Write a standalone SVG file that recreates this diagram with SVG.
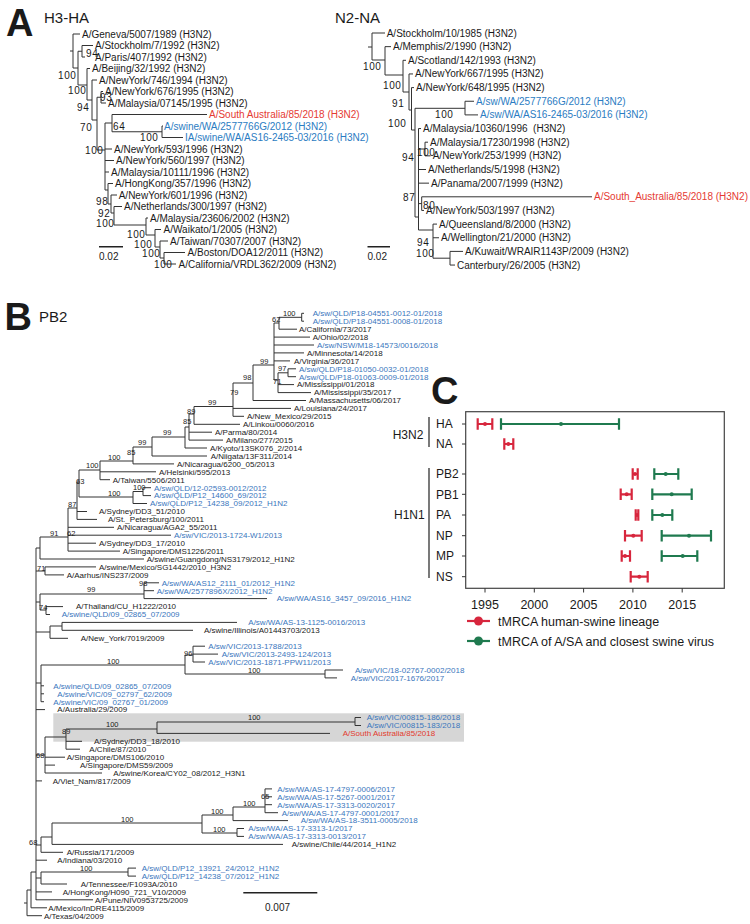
<svg xmlns="http://www.w3.org/2000/svg" width="750" height="924" viewBox="0 0 750 924">
<style>
text{font-family:"Liberation Sans",Arial,sans-serif;fill:#1a1a1a}
.pl{font-size:38px;font-weight:bold}
.ti{font-size:15px}
.a{font-size:10px}
.as{font-size:10px;letter-spacing:0.6px}
.b{font-size:8px}
.bs{font-size:7.5px}
.ab{fill:#2b7cc2}
.ar{fill:#e53a33}
.bb{fill:#3a76bd}
.br{fill:#e33b2e}
.ln{fill:none;stroke:#333;stroke-width:1}
.sb{fill:none;stroke:#222;stroke-width:1.6}
.c{font-size:12px}
.ax{font-size:12.5px}
.lg{font-size:12.5px}
.red{stroke:#d7263d;stroke-width:2.2;fill:none}
.grn{stroke:#1f7a4f;stroke-width:2.2;fill:none}
</style>
<rect width="750" height="924" fill="#fff"/>

<!-- Panel titles -->
<g id="titles">
<text class="pl" x="6" y="36">A</text>
<text class="ti" x="44" y="22.5">H3-HA</text>
<text class="ti" x="335" y="22.5">N2-NA</text>
<text class="pl" x="4.5" y="330">B</text>
<text class="ti" x="39" y="322.3">PB2</text>
<text class="pl" x="431" y="404">C</text>
</g>

<g id="connectors">
<!-- H3-HA tree -->
<path class="ln" d="M73 34V68M70 51H73M73 34H80
M73 68H78M78 51.25V85
M78 51.25H82M82 45.5V57M82 45.5H93M82 57H85
M78 85H87M87 68.5V100M87 68.5H90
M87 100H92M92 80V120M92 80H97
M92 120H97M97 97.25V150
M97 97.25H101M101 91.5V103M101 91.5H103M101 103H106
M97 150H105M105 123V190
M105 123H112M112 114.5V131.75M112 114.5H207M112 131.75H162M162 126V137.5M162 126H163M162 137.5H183
M105 149H112M105 160.5H114M105 172H109
M105 190H108M108 183.5V204M108 183.5H113
M108 204H111M111 195V213M111 195H117
M111 213H114M114 206.5V225M114 206.5H122
M114 225H146M146 218V235M146 218H148
M146 235H155M155 229.5V247M155 229.5H161
M155 247H160M160 241V258M160 241H168
M160 258H164M164 252.5V264M164 252.5H185M164 264H176"/>
<!-- N2-NA tree -->
<path class="ln" d="M372 33V60M368 47H372M372 33H385
M372 60H385M385 46.65V75M385 46.65H391
M385 75H403M403 60.3V92M403 60.3H406
M403 92H409M409 73.95V110M409 73.95H413
M409 110H411.5M411.5 87.6V130M411.5 87.6H414
M411.5 130H415M415 108.3V217M415 108.3H465M465 101.25V114.9M465 101.25H474M465 114.9H478
M415 217H418.5M418.5 128.55V230M418.5 128.55H421
M418.5 149H425M425 142.2V155.85M425 142.2H428M425 155.85H430.5
M418.5 169.5H426M418.5 183.15H429
M418.5 203.6H421.7M421.7 196.8V210.45M421.7 196.8H592M421.7 210.45H424
M418.5 230H433M433 224.1V258.2M433 224.1H437M433 237.75H439
M433 258.2H450M450 251.4V265.05M450 251.4H463M450 265.05H455"/>
<!-- scale bars A -->
<path class="sb" d="M99 246.7H123M367.5 246.7H390"/>

<!-- PB2 tree -->
<rect x="53.3" y="713.3" width="410.7" height="28.4" fill="#d6d6d6"/>
<path class="ln" d="M301.7 313.3V321.2M301.7 313.3H304M301.7 321.2H304
M279 317.3H301.7M279 317.3V329.2M279 329.2H297M274 323H279
M274 323V380M274 337.1H310M274 345H314M274 352.9H304M274 360.9H290M274 380H278
M278 372.8V392.6M278 372.8H288M278 384.6H294M278 392.6H311
M288 368.8V376.7M288 368.8H296M288 376.7H296
M253 365V400.5M253 365H274M253 400.5H306
M233 383V416.3M233 383H253M233 408.4H291M233 416.3H244
M194 406.5V424.3M194 406.5H233M194 424.3H240
M189 414V440.1M189 414H194M189 432.2H212M189 440.1H223
M185 427V448M185 427H189M185 448H207
M152 437V456M152 437H185M152 456H207
M133 447V463.9M133 447H152M133 463.9H174
M100 461V479.7M100 461H133M100 471.8H156M100 479.7H110
M79 470V497M79 470H100M79 497H133
M133 491.5V503.5M133 491.5H143M133 503.5H147
M143 487.7V495.6M143 487.7H151M143 495.6H151
M77 482V519.4M77 482H79M77 511.5H87M77 519.4H97
M68 508V551.1M68 508H77M68 527.3H114M68 535.2H171M68 543.2H96M68 551.1H120
M40 537V559M40 537H68M40 559H144
M36 548V900M36 548H40
M36 571H45M45 566.9V574.9M45 566.9H96M45 574.9H64
M36 602H40M40 594V610M40 594H144M40 610H46
M144 582.8V598.6M144 582.8H159M144 590.7H154M144 598.6H267
M46 606.6V614.5M46 606.6H63M46 614.5H50
M36 632H50M50 626V638.3M50 626H62M50 638.3H68
M62 622.4V630.3M62 622.4H237M62 630.3H193
M36 683H41M41 665V701.7M41 665H185M41 685.8H44M41 693.8H44M41 701.7H44
M185 655V674M185 655H193M185 674H325
M193 646.2V662M193 646.2H205M193 654.1H218M193 662H205
M325 670V677.9M325 670H343M325 677.9H337
M36 709.6H45
M36 755H45M45 737V773M45 757.2H65M45 765.1H55M45 773H102
M45 737H66M66 729V749.2M66 741.3H82M66 749.2H80
M66 729H157M157 722V733.4M157 722H355M157 733.4H330
M355 717.5V725.5M355 717.5H361M355 725.5H361
M36 780.9H42
M36 845H41M41 837V852.3M41 837H52M41 852.3H63
M52 823V844.4M52 823H202M52 844.4H283
M202 815V833M202 815H233M202 833H237
M233 807V820.6M233 807H265M233 820.6H288
M265 788.9V812.7M265 788.9H272M265 796.8H272M265 804.7H272M265 812.7H278
M237 828.5V836.4M237 828.5H244M237 836.4H244
M36 860.2H47
M36 878H41M41 872V884M41 872H128M41 884H67
M128 868.1V876.1M128 868.1H136M128 876.1H136
M36 891.9H52M36 899.8H93
M31 872H36M31 872V907.8M31 907.8H47
M27 890H31M27 890V915.7M24 903H27M27 915.7H42"/>
<path class="sb" d="M243.3 892.7H317.3"/>
</g>

<!-- H3-HA tips -->
<g id="hA-tips" class="a">
<g id="ha1"><text class="a" x="82" y="37.5">A/Geneva/5007/1989 (H3N2)</text></g>
<g id="ha2"><text class="a" x="95" y="49">A/Stockholm/7/1992 (H3N2)</text></g>
<g id="ha3"><text class="a" x="95" y="60.5">A/Paris/407/1992 (H3N2)</text></g>
<g id="ha4"><text class="a" x="92" y="72">A/Beijing/32/1992 (H3N2)</text></g>
<g id="ha5"><text class="a" x="99" y="83.5">A/NewYork/746/1994 (H3N2)</text></g>
<g id="ha6"><text class="a" x="105" y="95">A/NewYork/676/1995 (H3N2)</text></g>
<g id="ha7"><text class="a" x="108" y="106.5">A/Malaysia/07145/1995 (H3N2)</text></g>
<g id="ha8"><text class="a ar" x="209" y="118">A/South Australia/85/2018 (H3N2)</text></g>
<g id="ha9"><text class="a ab" x="164" y="129.5">A/swine/WA/2577766G/2012 (H3N2)</text></g>
<g id="ha10"><text class="a ab" x="185" y="141">IA/swine/WA/AS16-2465-03/2016 (H3N2)</text></g>
<g id="ha11"><text class="a" x="114" y="152.5">A/NewYork/593/1996 (H3N2)</text></g>
<g id="ha12"><text class="a" x="116" y="164">A/NewYork/560/1997 (H3N2)</text></g>
<g id="ha13"><text class="a" x="111" y="175.5">A/Malaysia/10111/1996 (H3N2)</text></g>
<g id="ha14"><text class="a" x="115" y="187">A/HongKong/357/1996 (H3N2)</text></g>
<g id="ha15"><text class="a" x="118.7" y="198.5">A/NewYork/601/1996 (H3N2)</text></g>
<g id="ha16"><text class="a" x="124" y="210">A/Netherlands/300/1997 (H3N2)</text></g>
<g id="ha17"><text class="a" x="150" y="221.5">A/Malaysia/23606/2002 (H3N2)</text></g>
<g id="ha18"><text class="a" x="163.6" y="233">A/Waikato/1/2005 (H3N2)</text></g>
<g id="ha19"><text class="a" x="170" y="244.5">A/Taiwan/70307/2007 (H3N2)</text></g>
<g id="ha20"><text class="a" x="187.6" y="256">A/Boston/DOA12/2011 (H3N2)</text></g>
<g id="ha21"><text class="a" x="178.5" y="267.5">A/California/VRDL362/2009 (H3N2)</text></g>
</g>
<g id="hA-support">
<text class="as" x="86" y="56.5">94</text>
<text class="as" x="58" y="78.5">100</text>
<text class="as" x="68" y="93.5">100</text>
<text class="as" x="77" y="110.5">94</text>
<text class="as" x="100" y="100.5">93</text>
<text class="as" x="80" y="130.5">70</text>
<text class="as" x="113" y="129.5">64</text>
<text class="as" x="140" y="140.5">100</text>
<text class="as" x="85" y="153.5">100</text>
<text class="as" x="96" y="204.5">98</text>
<text class="as" x="98" y="216.5">92</text>
<text class="as" x="96" y="226.5">100</text>
<text class="as" x="127" y="237.5">100</text>
<text class="as" x="134" y="247.5">100</text>
<text class="as" x="142" y="256.5">100</text>
<text class="as" x="154" y="267.5">100</text>
<text class="a" x="99" y="260">0.02</text>
</g>

<!-- N2-NA tips -->
<g id="nA-tips">
<g id="na1"><text class="a" x="386.7" y="36.5">A/Stockholm/10/1985 (H3N2)</text></g>
<g id="na2"><text class="a" x="393" y="50.15">A/Memphis/2/1990 (H3N2)</text></g>
<g id="na3"><text class="a" x="408" y="63.8">A/Scotland/142/1993 (H3N2)</text></g>
<g id="na4"><text class="a" x="415" y="77.45">A/NewYork/667/1995 (H3N2)</text></g>
<g id="na5"><text class="a" x="416" y="91.1">A/NewYork/648/1995 (H3N2)</text></g>
<g id="na6"><text class="a ab" x="476" y="104.75">A/sw/WA/2577766G/2012 (H3N2)</text></g>
<g id="na7"><text class="a ab" x="480" y="118.4">A/sw/WA/AS16-2465-03/2016 (H3N2)</text></g>
<g id="na8"><text class="a" x="423" y="132">A/Malaysia/10360/1996&#160; (H3N2)</text></g>
<g id="na9"><text class="a" x="430" y="145.7">A/Malaysia/17230/1998 (H3N2)</text></g>
<g id="na10"><text class="a" x="432.7" y="159.35">A/NewYork/253/1999 (H3N2)</text></g>
<g id="na11"><text class="a" x="428" y="173">A/Netherlands/5/1998 (H3N2)</text></g>
<g id="na12"><text class="a" x="431" y="186.65">A/Panama/2007/1999 (H3N2)</text></g>
<g id="na13"><text class="a ar" x="594" y="200.3">A/South_Australia/85/2018 (H3N2)</text></g>
<g id="na14"><text class="a" x="426" y="213.95">A/NewYork/503/1997 (H3N2)</text></g>
<g id="na15"><text class="a" x="439" y="227.6">A/Queensland/8/2000 (H3N2)</text></g>
<g id="na16"><text class="a" x="441" y="241.25">A/Wellington/21/2000 (H3N2)</text></g>
<g id="na17"><text class="a" x="465" y="254.9">A/Kuwait/WRAIR1143P/2009 (H3N2)</text></g>
<g id="na18"><text class="a" x="457" y="268.55">Canterbury/26/2005 (H3N2)</text></g>
</g>
<g id="nA-support">
<text class="as" x="363" y="70.2">100</text>
<text class="as" x="383" y="88.5">100</text>
<text class="as" x="392" y="106.5">91</text>
<text class="as" x="388" y="126.5">100</text>
<text class="as" x="435" y="117.5">100</text>
<text class="as" x="417" y="155.5">100</text>
<text class="as" x="402" y="160.5">94</text>
<text class="as" x="403" y="200.5">87</text>
<text class="as" x="423" y="208.5">80</text>
<text class="as" x="417" y="245.5">94</text>
<text class="as" x="416" y="256.8">100</text>
<text class="a" x="367.5" y="260">0.02</text>
</g>

<!-- PB2 tips -->
<g id="pb2-tips">
<g id="p0"><text class="b bb" x="312.7" y="316.1">A/sw/QLD/P18-04551-0012-01/2018</text></g>
<g id="p1"><text class="b bb" x="312.7" y="324">A/sw/QLD/P18-04551-0008-01/2018</text></g>
<g id="p2"><text class="b" x="299" y="332">A/California/73/2017</text></g>
<g id="p3"><text class="b" x="312.7" y="339.9">A/Ohio/02/2018</text></g>
<g id="p4"><text class="b bb" x="317" y="347.8">A/sw/NSW/M18-14573/0016/2018</text></g>
<g id="p5"><text class="b" x="307" y="355.7">A/Minnesota/14/2018</text></g>
<g id="p6"><text class="b" x="294" y="363.7">A/Virginia/36/2017</text></g>
<g id="p7"><text class="b bb" x="299" y="371.6">A/sw/QLD/P18-01050-0032-01/2018</text></g>
<g id="p8"><text class="b bb" x="299" y="379.5">A/sw/QLD/P18-01063-0009-01/2018</text></g>
<g id="p9"><text class="b" x="297" y="387.4">A/Mississippi/01/2018</text></g>
<g id="p10"><text class="b" x="314" y="395.4">A/Mississippi/35/2017</text></g>
<g id="p11"><text class="b" x="309" y="403.3">A/Massachusetts/06/2017</text></g>
<g id="p12"><text class="b" x="294" y="411.2">A/Louisiana/24/2017</text></g>
<g id="p13"><text class="b" x="247" y="419.1">A/New_Mexico/29/2015</text></g>
<g id="p14"><text class="b" x="243" y="427.1">A/Linkou/0060/2016</text></g>
<g id="p15"><text class="b" x="215" y="435">A/Parma/80/2014</text></g>
<g id="p16"><text class="b" x="226" y="442.9">A/Milano/277/2015</text></g>
<g id="p17"><text class="b" x="210" y="450.8">A/Kyoto/13SK076_2/2014</text></g>
<g id="p18"><text class="b" x="210.7" y="458.8">A/Niigata/13F311/2014</text></g>
<g id="p19"><text class="b" x="177" y="466.7">A/Nicaragua/6200_05/2013</text></g>
<g id="p20"><text class="b" x="159" y="474.6">A/Helsinki/595/2013</text></g>
<g id="p21"><text class="b" x="112.7" y="482.5">A/Taiwan/5506/2011</text></g>
<g id="p22"><text class="b bb" x="154" y="490.5">A/sw/QLD/12-02593-0012/2012</text></g>
<g id="p23"><text class="b bb" x="154" y="498.4">A/sw/QLD/P12_14600_69/2012</text></g>
<g id="p24"><text class="b bb" x="150" y="506.3">A/sw/QLD/P12_14238_09/2012_H1N2</text></g>
<g id="p25"><text class="b" x="99" y="514.3">A/Sydney/DD3_51/2010</text></g>
<g id="p26"><text class="b" x="108" y="522.2">A/St._Petersburg/100/2011</text></g>
<g id="p27"><text class="b" x="117" y="530.1">A/Nicaragua/AGA2_55/2011</text></g>
<g id="p28"><text class="b bb" x="174" y="538">A/sw/VIC/2013-1724-W1/2013</text></g>
<g id="p29"><text class="b" x="99" y="546">A/Sydney/DD3_17/2010</text></g>
<g id="p30"><text class="b" x="122.7" y="553.9">A/Singapore/DMS1226/2011</text></g>
<g id="p31"><text class="b" x="146.7" y="561.8">A/swine/Guangdong/NS3179/2012_H1N2</text></g>
<g id="p32"><text class="b" x="99" y="569.7">A/swine/Mexico/SG1442/2010_H3N2</text></g>
<g id="p33"><text class="b" x="66.7" y="577.7">A/Aarhus/INS237/2009</text></g>
<g id="p34"><text class="b bb" x="161.7" y="585.6">A/sw/WA/AS12_2111_01/2012_H1N2</text></g>
<g id="p35"><text class="b bb" x="156.7" y="593.5">A/sw/WA/2577896X/2012_H1N2</text></g>
<g id="p36"><text class="b bb" x="276.7" y="601.4">A/sw/WA/AS16_3457_09/2016_H1N2</text></g>
<g id="p37"><text class="b" x="76" y="609.4">A/Thailand/CU_H1222/2010</text></g>
<g id="p38"><text class="b bb" x="61.7" y="617.3">A/swine/QLD/09_02865_07/2009</text></g>
<g id="p39"><text class="b bb" x="248.3" y="625.2">A/sw/WA/AS-13-1125-0016/2013</text></g>
<g id="p40"><text class="b" x="204" y="633.1">A/swine/Illinois/A01443703/2013</text></g>
<g id="p41"><text class="b" x="80.7" y="641.1">A/New_York/7019/2009</text></g>
<g id="p42"><text class="b bb" x="208.3" y="649">A/sw/VIC/2013-1788/2013</text></g>
<g id="p43"><text class="b bb" x="221.7" y="656.9">A/sw/VIC/2013-2493-124/2013</text></g>
<g id="p44"><text class="b bb" x="208.3" y="664.8">A/sw/VIC/2013-1871-PPW11/2013</text></g>
<g id="p45"><text class="b bb" x="355" y="672.8">A/sw/VIC/18-02767-0002/2018</text></g>
<g id="p46"><text class="b bb" x="350.7" y="680.7">A/sw/VIC/2017-1676/2017</text></g>
<g id="p47"><text class="b bb" x="53.3" y="688.6">A/swine/QLD/09_02865_07/2009</text></g>
<g id="p48"><text class="b bb" x="57.3" y="696.6">A/swine/VIC/09_02797_62/2009</text></g>
<g id="p49"><text class="b bb" x="53.3" y="704.5">A/swine/VIC/09_02767_01/2009</text></g>
<g id="p50"><text class="b" x="57.3" y="712.4">A/Australia/29/2009</text></g>
<g id="p51"><text class="b bb" x="366.7" y="720.3">A/sw/VIC/00815-186/2018</text></g>
<g id="p52"><text class="b bb" x="366.7" y="728.3">A/sw/VIC/00815-183/2018</text></g>
<g id="p53"><text class="b br" x="342.7" y="736.2">A/South Australia/85/2018</text></g>
<g id="p54"><text class="b" x="94" y="744.1">A/Sydney/DD3_18/2010</text></g>
<g id="p55"><text class="b" x="89.3" y="752">A/Chile/87/2010</text></g>
<g id="p56"><text class="b" x="66.7" y="760">A/Singapore/DMS106/2010</text></g>
<g id="p57"><text class="b" x="80" y="767.9">A/Singapore/DMS59/2009</text></g>
<g id="p58"><text class="b" x="113.3" y="775.8">A/swine/Korea/CY02_08/2012_H3N1</text></g>
<g id="p59"><text class="b" x="52.7" y="783.7">A/Viet_Nam/817/2009</text></g>
<g id="p60"><text class="b bb" x="277.3" y="791.7">A/sw/WA/AS-17-4797-0006/2017</text></g>
<g id="p61"><text class="b bb" x="277.3" y="799.6">A/sw/WA/AS-17-5267-0001/2017</text></g>
<g id="p62"><text class="b bb" x="277.3" y="807.5">A/sw/WA/AS-17-3313-0020/2017</text></g>
<g id="p63"><text class="b bb" x="281.7" y="815.5">A/sw/WA/AS-17-4797-0001/2017</text></g>
<g id="p64"><text class="b bb" x="300.7" y="823.4">A/sw/WA/AS-18-3511-0005/2018</text></g>
<g id="p65"><text class="b bb" x="248.3" y="831.3">A/sw/WA/AS-17-3313-1/2017</text></g>
<g id="p66"><text class="b bb" x="248.3" y="839.2">A/sw/WA/AS-17-3313-0013/2017</text></g>
<g id="p67"><text class="b" x="291.7" y="847.2">A/swine/Chile/44/2014_H1N2</text></g>
<g id="p68"><text class="b" x="66.7" y="855.1">A/Russia/171/2009</text></g>
<g id="p69"><text class="b" x="57.3" y="863">A/Indiana/03/2010</text></g>
<g id="p70"><text class="b bb" x="141.7" y="870.9">A/sw/QLD/P12_13921_24/2012_H1N2</text></g>
<g id="p71"><text class="b bb" x="141.7" y="878.9">A/sw/QLD/P12_14238_07/2012_H1N2</text></g>
<g id="p72"><text class="b" x="80.7" y="886.8">A/Tennessee/F1093A/2010</text></g>
<g id="p73"><text class="b" x="62.7" y="894.7">A/HongKong/H090_721_V10/2009</text></g>
<g id="p74"><text class="b" x="95" y="902.6">A/Pune/NIV0953725/2009</text></g>
<g id="p75"><text class="b" x="48.3" y="910.6">A/Mexico/InDRE4115/2009</text></g>
<g id="p76"><text class="b" x="44" y="918.5">A/Texas/04/2009</text></g>
</g>
<g id="pb2-support" class="bs">
<text class="bs" x="283" y="315.7">100</text>
<text class="bs" x="272" y="321.7">62</text>
<text class="bs" x="260" y="363.5">99</text>
<text class="bs" x="278" y="370.5">97</text>
<text class="bs" x="243" y="379.5">98</text>
<text class="bs" x="273" y="383.5">71</text>
<text class="bs" x="230" y="394.5">79</text>
<text class="bs" x="208" y="404.5">99</text>
<text class="bs" x="187" y="413.5">89</text>
<text class="bs" x="183" y="423.5">85</text>
<text class="bs" x="163" y="435">99</text>
<text class="bs" x="138" y="445">99</text>
<text class="bs" x="127" y="454.5">85</text>
<text class="bs" x="108" y="459.5">100</text>
<text class="bs" x="86" y="468">100</text>
<text class="bs" x="76" y="483.5">63</text>
<text class="bs" x="133" y="490">100</text>
<text class="bs" x="108" y="495.5">100</text>
<text class="bs" x="68" y="507">87</text>
<text class="bs" x="50" y="535.5">91</text>
<text class="bs" x="67" y="535.5">62</text>
<text class="bs" x="37" y="570.5">71</text>
<text class="bs" x="139" y="585.5">98</text>
<text class="bs" x="87" y="591.5">99</text>
<text class="bs" x="39" y="609.5">74</text>
<text class="bs" x="184" y="655.5">96</text>
<text class="bs" x="107" y="663.5">100</text>
<text class="bs" x="248" y="672.5">100</text>
<text class="bs" x="248" y="720">100</text>
<text class="bs" x="106" y="727">100</text>
<text class="bs" x="62" y="733.5">89</text>
<text class="bs" x="36" y="757.5">68</text>
<text class="bs" x="261" y="798.5">65</text>
<text class="bs" x="243" y="805.5">100</text>
<text class="bs" x="211" y="813.5">100</text>
<text class="bs" x="121" y="821.5">100</text>
<text class="bs" x="213" y="831.5">100</text>
<text class="bs" x="29" y="844.5">68</text>
<text class="bs" x="80" y="870.5">100</text>
<text x="265" y="910.5" style="font-size:10px">0.007</text>
</g>

<!-- Panel C -->
<g id="panelC">
<g id="c-labels">
<text class="c" x="392.7" y="439.3">H3N2</text>
<path class="ln" style="stroke-width:1.3" d="M429 417V447M429 468V578"/>
<text class="c" x="436" y="428">HA</text>
<text class="c" x="436" y="448">NA</text>
<text class="c" x="394" y="519.3">H1N1</text>
<text class="c" x="436" y="478.3">PB2</text>
<text class="c" x="436" y="498.6">PB1</text>
<text class="c" x="436" y="519.3">PA</text>
<text class="c" x="436" y="540">NP</text>
<text class="c" x="436" y="560.3">MP</text>
<text class="c" x="436" y="581">NS</text>
</g>
<rect x="465.7" y="411.7" width="258.6" height="176.6" fill="none" stroke="#444" stroke-width="1.2"/>
<path class="ln" stroke="#444" d="M462 424H465.7M462 444H465.7M462 474H465.7M462 494.3H465.7M462 515H465.7M462 535.7H465.7M462 556H465.7M462 576.7H465.7
M485 588.3V592.5M534.3 588.3V592.5M583.6 588.3V592.5M632.9 588.3V592.5M682.2 588.3V592.5"/>
<g id="c-axis" class="ax">
<text class="ax" x="485" y="608.5" text-anchor="middle">1995</text>
<text class="ax" x="534.3" y="608.5" text-anchor="middle">2000</text>
<text class="ax" x="583.6" y="608.5" text-anchor="middle">2005</text>
<text class="ax" x="632.9" y="608.5" text-anchor="middle">2010</text>
<text class="ax" x="682.2" y="608.5" text-anchor="middle">2015</text>
</g>
<g id="c-red">
<path class="red" d="M477.7 424H492.3M477.7 418.3V429.7M492.3 418.3V429.7
M504.3 444H513.3M504.3 438.3V449.7M513.3 438.3V449.7
M632.7 474H637.7M632.7 468.3V479.7M637.7 468.3V479.7
M620.7 494.3H631.7M620.7 488.6V500M631.7 488.6V500
M635.7 515H638.3M635.7 509.3V520.7M638.3 509.3V520.7
M625 535.7H641.7M625 530V541.4M641.7 530V541.4
M621.7 556H630M621.7 550.3V561.7M630 550.3V561.7
M630.7 576.7H647.7M630.7 571V582.4M647.7 571V582.4"/>
<g fill="#d7263d">
<circle cx="485" cy="424" r="2"/><circle cx="508.3" cy="444" r="2"/><circle cx="635" cy="474" r="2"/><circle cx="626.7" cy="494.3" r="2"/><circle cx="637" cy="515" r="2"/><circle cx="633.3" cy="535.7" r="2"/><circle cx="625" cy="556" r="2"/><circle cx="639.3" cy="576.7" r="2"/>
</g>
</g>
<g id="c-green">
<path class="grn" d="M501 424H619M501 418.3V429.7M619 418.3V429.7
M654.3 474H678.3M654.3 468.3V479.7M678.3 468.3V479.7
M652.3 494.3H691.7M652.3 488.6V500M691.7 488.6V500
M652.3 515H672.3M652.3 509.3V520.7M672.3 509.3V520.7
M661.7 535.7H711M661.7 530V541.4M711 530V541.4
M661.7 556H697.3M661.7 550.3V561.7M697.3 550.3V561.7"/>
<g fill="#1f7a4f">
<circle cx="561" cy="424" r="2"/><circle cx="665.7" cy="474" r="2"/><circle cx="671.7" cy="494.3" r="2"/><circle cx="662.3" cy="515" r="2"/><circle cx="689" cy="535.7" r="2"/><circle cx="682.7" cy="556" r="2"/>
</g>
</g>
<g id="c-legend">
<path class="red" d="M467 621H490"/><circle cx="478.5" cy="621" r="4.5" fill="#d7263d"/>
<text class="lg" x="498" y="625.5">tMRCA human-swine lineage</text>
<path class="grn" d="M467 641H490"/><circle cx="478.5" cy="641" r="4.5" fill="#1f7a4f"/>
<text class="lg" x="498" y="645.5">tMRCA of A/SA and closest swine virus</text>
</g>
</g>
</svg>
